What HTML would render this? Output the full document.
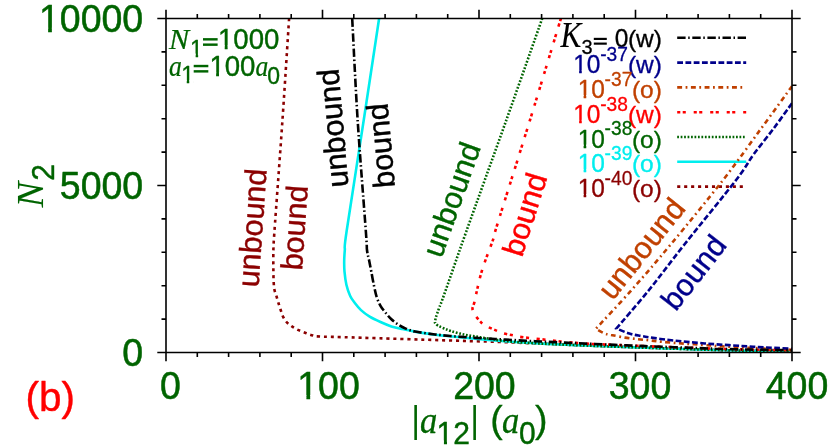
<!DOCTYPE html>
<html lang="en"><head><meta charset="utf-8"><title>Phase diagram (b)</title>
<style>
html,body{margin:0;padding:0;background:#fff;}
body{width:830px;height:446px;overflow:hidden;font-family:"Liberation Sans", sans-serif;}
svg{display:block;will-change:transform;}
text{font-family:"Liberation Sans", sans-serif;stroke-linejoin:round;}
.it{font-family:"Liberation Serif", serif;font-style:italic;}
</style></head><body>
<svg width="830" height="446" viewBox="0 0 830 446">
<rect width="830" height="446" fill="#fff"/>
<defs><clipPath id="plot"><rect x="166" y="18.5" width="626" height="334"/></clipPath></defs>
<g fill="none" stroke-width="2.6">
<path d="M677.2 37.8 H746.2" stroke="#000000" stroke-dasharray="8.4 2.6 1.5 2.6"/>
<path d="M677.2 62.6 H746.2" stroke="#00008b" stroke-dasharray="5.8 2.45"/>
<path d="M677.2 87.4 H743" stroke="#c04000" stroke-dasharray="4.9 3.5 1.8 3.5"/>
<path d="M677.2 112.2 H746.2" stroke="#ff0000" stroke-dasharray="3.1 2.4 3.1 7.9"/>
<path d="M677.2 137 H746.2" stroke="#006400" stroke-dasharray="1.75 1.71"/>
<path d="M677.2 161.8 H746.2" stroke="#00eeee"/>
<path d="M677.2 186.6 H746.2" stroke="#8b0000" stroke-dasharray="3.1 3.85"/>
</g>
<g fill="none" stroke-width="2.6" stroke-linejoin="miter" clip-path="url(#plot)">
<path d="M289.1 18.5 C287.98 35.58 284.85 85.42 282.4 121 C279.95 156.58 275.9 210.5 274.4 232 C272.9 253.5 273.57 243.38 273.4 250 C273.23 256.62 273.35 266.28 273.4 271.7 C273.45 277.12 273.52 279.43 273.7 282.5 C273.88 285.57 274.02 287.75 274.5 290.1 C274.98 292.45 275.97 294.53 276.6 296.6 C277.23 298.67 277.67 300.43 278.3 302.5 C278.93 304.57 279.68 306.8 280.4 309 C281.12 311.2 281.65 313.62 282.6 315.7 C283.55 317.78 284.68 319.82 286.1 321.5 C287.52 323.18 289.3 324.48 291.1 325.8 C292.9 327.12 294.88 328.37 296.9 329.4 C298.92 330.43 301.07 331.15 303.2 332 C305.33 332.85 307.53 333.77 309.7 334.5 C311.87 335.23 315.12 336.08 316.2 336.4 C317.38 336.45 320.95 336.63 323.3 336.7 C325.65 336.77 326.78 336.72 330.3 336.8 C333.82 336.88 336.18 336.95 344.4 337.2 C352.62 337.45 366.17 337.88 379.6 338.3 C393.03 338.72 410.43 339.25 425 339.7 C439.57 340.15 453.67 340.6 467 341 C480.33 341.4 495.33 341.77 505 342.1 C514.67 342.43 518.33 342.73 525 343 C531.67 343.27 538.33 343.47 545 343.75 C551.67 344.03 558.33 344.41 565 344.7 C571.67 344.99 578.33 345.24 585 345.5 C591.67 345.76 598.33 346.03 605 346.28 C611.67 346.53 618.33 346.76 625 347 C631.67 347.24 638.33 347.49 645 347.72 C651.67 347.95 658.33 348.17 665 348.39 C671.67 348.61 678.33 348.83 685 349.04 C691.67 349.25 698.33 349.45 705 349.65 C711.67 349.85 718.33 350.08 725 350.25 C731.67 350.42 738.33 350.53 745 350.65 C751.67 350.77 758.33 350.87 765 350.95 C771.67 351.03 780.5 351.09 785 351.13 C789.5 351.18 790.83 351.19 792 351.2" stroke="#8b0000" stroke-dasharray="3.1 3.85"/>
<path d="M379.1 18.5 C376.52 35.58 369.03 85.42 363.6 121 C358.17 156.58 349.63 210.5 346.5 232 C343.37 253.5 345.18 245.2 344.8 250 C344.42 254.8 344.25 257.18 344.2 260.8 C344.15 264.42 344.13 267.72 344.5 271.7 C344.87 275.68 345.45 280.65 346.4 284.7 C347.35 288.75 348.85 293.03 350.2 296 C351.55 298.97 352.7 300.15 354.5 302.5 C356.3 304.85 358.47 307.75 361 310.1 C363.53 312.45 366.45 314.62 369.7 316.6 C372.95 318.58 376.88 320.37 380.5 322 C384.12 323.63 387.78 325.22 391.4 326.4 C395.02 327.58 398.27 328.23 402.2 329.1 C406.13 329.97 409.53 330.67 415 331.6 C420.47 332.53 428.33 333.81 435 334.67 C441.67 335.52 448.33 336.03 455 336.72 C461.67 337.4 468.33 338.15 475 338.78 C481.67 339.41 488.33 339.97 495 340.5 C501.67 341.03 508.33 341.52 515 341.98 C521.67 342.44 528.33 342.87 535 343.25 C541.67 343.63 548.33 343.94 555 344.25 C561.67 344.56 568.33 344.83 575 345.1 C581.67 345.38 588.33 345.64 595 345.9 C601.67 346.16 608.33 346.4 615 346.64 C621.67 346.88 628.33 347.12 635 347.36 C641.67 347.6 648.33 347.84 655 348.06 C661.67 348.29 668.33 348.5 675 348.71 C681.67 348.93 688.33 349.14 695 349.35 C701.67 349.56 708.33 349.76 715 349.95 C721.67 350.14 728.33 350.34 735 350.48 C741.67 350.63 748.33 350.72 755 350.82 C761.67 350.91 768.83 350.98 775 351.04 C781.17 351.1 789.17 351.17 792 351.2" stroke="#00eeee"/>
<path d="M542.2 18.5 C536.17 35.58 518.68 85.42 506 121 C493.32 156.58 476.43 203 466.1 232 C455.77 261 448.5 282.33 444 295 C439.5 307.67 440.47 304.2 439.1 308 C437.73 311.8 436.48 315.35 435.8 317.8 C435.12 320.25 435.13 321.88 435 322.7 C435.47 323.17 436.38 324.58 437.8 325.5 C439.22 326.42 441.33 327.28 443.5 328.2 C445.67 329.12 447.42 329.95 450.8 331 C454.18 332.05 459.28 333.52 463.8 334.5 C468.32 335.48 473.38 336.17 477.9 336.9 C482.42 337.63 487.22 338.32 490.9 338.9 C494.58 339.48 495.98 339.89 500 340.4 C504.02 340.91 509.17 341.5 515 341.98 C520.83 342.46 528.33 342.87 535 343.25 C541.67 343.63 548.33 343.94 555 344.25 C561.67 344.56 568.33 344.83 575 345.1 C581.67 345.38 588.33 345.64 595 345.9 C601.67 346.16 608.33 346.4 615 346.64 C621.67 346.88 628.33 347.12 635 347.36 C641.67 347.6 648.33 347.84 655 348.06 C661.67 348.29 668.33 348.5 675 348.71 C681.67 348.93 688.33 349.14 695 349.35 C701.67 349.56 708.33 349.76 715 349.95 C721.67 350.14 728.33 350.34 735 350.48 C741.67 350.63 748.33 350.72 755 350.82 C761.67 350.91 768.83 350.98 775 351.04 C781.17 351.1 789.17 351.17 792 351.2" stroke="#006400" stroke-dasharray="1.75 1.71"/>
<path d="M560.9 18.5 C555.7 35.58 540.3 86.67 529.7 121 C519.1 155.33 503.32 204.97 497.3 224.5 C491.28 244.03 496.1 230.72 493.6 238.2 C491.1 245.68 485.22 260.05 482.3 269.4 C479.38 278.75 477.43 288.77 476.1 294.3 C474.77 299.83 474.9 300.13 474.3 302.6 C473.7 305.07 472.32 306.93 472.5 309.1 C472.68 311.27 473.73 313.17 475.4 315.6 C477.07 318.03 480.47 321.83 482.5 323.7 C484.53 325.57 485.12 325.58 487.6 326.8 C490.08 328.02 494.85 329.92 497.4 331 C499.95 332.08 500.23 332.57 502.9 333.3 C505.57 334.03 510.75 334.83 513.4 335.4 C516.05 335.97 516.1 336.27 518.8 336.7 C521.5 337.13 526.83 337.67 529.6 338 C532.37 338.33 532.62 338.4 535.4 338.7 C538.18 339 543.65 339.52 546.3 339.8 C548.95 340.08 548.18 340.05 551.3 340.4 C554.42 340.75 559.38 341.37 565 341.9 C570.62 342.43 578.33 343.15 585 343.59 C591.67 344.02 598.33 344.21 605 344.5 C611.67 344.79 618.33 345.03 625 345.3 C631.67 345.57 638.33 345.84 645 346.1 C651.67 346.36 658.33 346.61 665 346.86 C671.67 347.11 678.33 347.37 685 347.61 C691.67 347.86 698.33 348.09 705 348.32 C711.67 348.56 718.33 348.83 725 349.02 C731.67 349.22 738.33 349.36 745 349.5 C751.67 349.64 758.33 349.76 765 349.86 C771.67 349.96 780.5 350.06 785 350.11 C789.5 350.17 790.83 350.19 792 350.2" stroke="#ff0000" stroke-dasharray="3.1 2.4 3.1 7.9"/>
<path d="M792 86.2 C786.92 93.17 772.98 112.37 761.5 128 C750.02 143.63 738.17 160.67 723.1 180 C708.03 199.33 686.35 225.67 671.1 244 C655.85 262.33 644.15 275.87 631.6 290 C619.05 304.13 601.77 322.33 595.8 328.8 C597.25 329.57 601.97 332.38 604.5 333.4 C607.03 334.42 607.58 334.2 611 334.9 C614.42 335.6 620.48 336.88 625 337.6 C629.52 338.32 633.93 338.73 638.1 339.2 C642.27 339.67 646.07 339.97 650 340.4 C653.93 340.83 657.03 341.33 661.7 341.8 C666.37 342.27 672.58 342.78 678 343.2 C683.42 343.62 688.78 343.92 694.2 344.3 C699.62 344.68 705.98 345.17 710.5 345.5 C715.02 345.83 715.13 345.93 721.3 346.3 C727.47 346.67 739.38 347.27 747.5 347.7 C755.62 348.13 762.58 348.53 770 348.9 C777.42 349.27 788.33 349.73 792 349.9" stroke="#c04000" stroke-dasharray="4.9 3.5 1.8 3.5"/>
<path d="M792 103.2 C789 107.33 780.47 119.37 774 128 C767.53 136.63 759.52 146.33 753.2 155 C746.88 163.67 747.5 165.17 736.1 180 C724.7 194.83 699.32 225.67 684.8 244 C670.28 262.33 660.4 275.92 649 290 C637.6 304.08 621.83 322.08 616.4 328.5 C618.57 329.35 625.25 332.35 629.4 333.6 C633.55 334.85 637.87 335.37 641.3 336 C644.73 336.63 645.7 336.77 650 337.4 C654.3 338.03 661.53 339.12 667.1 339.8 C672.67 340.48 677.98 340.97 683.4 341.5 C688.82 342.03 694.18 342.53 699.6 343 C705.02 343.47 708.82 343.8 715.9 344.3 C722.98 344.8 735.02 345.53 742.1 346 C749.18 346.47 752.98 346.78 758.4 347.1 C763.82 347.42 769 347.62 774.6 347.9 C780.2 348.18 789.1 348.65 792 348.8" stroke="#00008b" stroke-dasharray="5.8 2.45"/>
<path d="M352.2 18.5 C353.12 35.58 355.42 85.42 357.7 121 C359.98 156.58 364.35 210.5 365.9 232 C367.45 253.5 366.45 245.2 367 250 C367.55 254.8 368.48 257.18 369.2 260.8 C369.92 264.42 370.5 267.53 371.3 271.7 C372.1 275.87 373.1 281.57 374 285.8 C374.9 290.03 375.62 293.77 376.7 297.1 C377.78 300.43 378.95 303.1 380.5 305.8 C382.05 308.5 384.18 311.05 386 313.3 C387.82 315.55 389.42 317.45 391.4 319.3 C393.38 321.15 395.73 322.95 397.9 324.4 C400.07 325.85 401.55 326.82 404.4 328 C407.25 329.18 409.9 330.43 415 331.5 C420.1 332.57 428.33 333.62 435 334.43 C441.67 335.25 448.33 335.82 455 336.39 C461.67 336.96 468.33 337.41 475 337.85 C481.67 338.3 488.33 338.66 495 339.04 C501.67 339.42 508.33 339.79 515 340.16 C521.67 340.53 528.33 340.9 535 341.23 C541.67 341.57 548.33 341.85 555 342.17 C561.67 342.48 568.33 342.8 575 343.11 C581.67 343.43 588.33 343.76 595 344.06 C601.67 344.36 608.33 344.63 615 344.9 C621.67 345.17 628.33 345.44 635 345.7 C641.67 345.96 648.33 346.23 655 346.49 C661.67 346.74 668.33 346.99 675 347.24 C681.67 347.49 688.33 347.74 695 347.98 C701.67 348.21 708.33 348.45 715 348.68 C721.67 348.9 728.33 349.13 735 349.3 C741.67 349.47 748.33 349.59 755 349.7 C761.67 349.81 768.83 349.9 775 349.99 C781.17 350.07 789.17 350.16 792 350.2" stroke="#000000" stroke-dasharray="8.4 2.6 1.5 2.6"/>
</g>
<path d="M157.3 352.5 H800.7 M157.3 18.5 H800.7 M166 9.8 V361.2 M792 9.8 V361.2 M166 352.5 v8.7 M166 18.5 v-8.7 M197.3 352.5 v4.5 M197.3 18.5 v-4.5 M228.6 352.5 v4.5 M228.6 18.5 v-4.5 M259.9 352.5 v4.5 M259.9 18.5 v-4.5 M291.2 352.5 v4.5 M291.2 18.5 v-4.5 M322.5 352.5 v8.7 M322.5 18.5 v-8.7 M353.8 352.5 v4.5 M353.8 18.5 v-4.5 M385.1 352.5 v4.5 M385.1 18.5 v-4.5 M416.4 352.5 v4.5 M416.4 18.5 v-4.5 M447.7 352.5 v4.5 M447.7 18.5 v-4.5 M479 352.5 v8.7 M479 18.5 v-8.7 M510.3 352.5 v4.5 M510.3 18.5 v-4.5 M541.6 352.5 v4.5 M541.6 18.5 v-4.5 M572.9 352.5 v4.5 M572.9 18.5 v-4.5 M604.2 352.5 v4.5 M604.2 18.5 v-4.5 M635.5 352.5 v8.7 M635.5 18.5 v-8.7 M666.8 352.5 v4.5 M666.8 18.5 v-4.5 M698.1 352.5 v4.5 M698.1 18.5 v-4.5 M729.4 352.5 v4.5 M729.4 18.5 v-4.5 M760.7 352.5 v4.5 M760.7 18.5 v-4.5 M792 352.5 v8.7 M792 18.5 v-8.7 M166 352.5 h-8.7 M792 352.5 h8.7 M166 319.1 h-4.5 M792 319.1 h4.5 M166 285.7 h-4.5 M792 285.7 h4.5 M166 252.3 h-4.5 M792 252.3 h4.5 M166 218.9 h-4.5 M792 218.9 h4.5 M166 185.5 h-8.7 M792 185.5 h8.7 M166 152.1 h-4.5 M792 152.1 h4.5 M166 118.7 h-4.5 M792 118.7 h4.5 M166 85.3 h-4.5 M792 85.3 h4.5 M166 51.9 h-4.5 M792 51.9 h4.5 M166 18.5 h-8.7 M792 18.5 h8.7" fill="none" stroke="#000" stroke-width="1.6"/>
<g fill="#006400" stroke="#006400">
<clipPath id="c1"><path clip-rule="evenodd" d="M-750 -750 H750 V750 H-750 Z M-103.16 -4.1 H-95.06 V2 H-103.16 Z M-91.35 -4.1 H-84.04 V2 H-91.35 Z"/></clipPath>
<text transform="translate(143.2 31.7) scale(1 1.044)" font-size="37.5" stroke-width="0.51" text-anchor="end" clip-path="url(#c1)">10000</text>
<text transform="translate(143.2 198.6) scale(1 1.044)" font-size="37.5" stroke-width="0.51" text-anchor="end">5000</text>
<text transform="translate(143.2 365.8) scale(1 1.044)" font-size="37.5" stroke-width="0.51" text-anchor="end">0</text>
<text transform="translate(170.4 399.3) scale(1 1.044)" font-size="37.5" stroke-width="0.51" text-anchor="middle">0</text>
<clipPath id="c2"><path clip-rule="evenodd" d="M-450 -450 H450 V450 H-450 Z M-30.16 -4.1 H-22.06 V2 H-30.16 Z M-18.34 -4.1 H-11.04 V2 H-18.34 Z"/></clipPath>
<text transform="translate(328.5 399.3) scale(1 1.044)" font-size="37.5" stroke-width="0.51" text-anchor="middle" clip-path="url(#c2)">100</text>
<text transform="translate(484.4 399.3) scale(1 1.044)" font-size="37.5" stroke-width="0.51" text-anchor="middle">200</text>
<text transform="translate(640 399.3) scale(1 1.044)" font-size="37.5" stroke-width="0.51" text-anchor="middle">300</text>
<text transform="translate(797 399.3) scale(1 1.044)" font-size="37.5" stroke-width="0.51" text-anchor="middle">400</text>
</g>
<g fill="#006400" stroke="#006400">
<text transform="translate(42.8 207.5) rotate(-90)" font-size="38.5" stroke-width="0.1" class="it">N</text>
<text transform="translate(54.2 180.7) rotate(-90) scale(1 1.044)" font-size="30" stroke-width="0.41">2</text>
</g>
<g fill="#006400" stroke="#006400">
<text transform="translate(411.5 432.2) scale(0.85 1)" font-size="37.5" stroke-width="0">|</text>
<text transform="translate(419.9 432.7) scale(0.9 1)" font-size="38.5" stroke-width="0.31" class="it">a</text>
<clipPath id="c3"><path clip-rule="evenodd" d="M-360 -360 H360 V360 H-360 Z M0.9 -3.54 H7.34 V2 H0.9 Z M10.39 -3.54 H16.2 V2 H10.39 Z"/></clipPath>
<text transform="translate(436.6 444.2) scale(1 1.044)" font-size="30" stroke-width="0.41" clip-path="url(#c3)">12</text>
<text transform="translate(470.5 432.2) scale(0.85 1)" font-size="37.5" stroke-width="0">|</text>
<text transform="translate(490.3 432)" font-size="37.5" stroke-width="0.3">(</text>
<text transform="translate(502.1 432.7) scale(0.9 1)" font-size="38.5" stroke-width="0.31" class="it">a</text>
<text transform="translate(518.9 444.4) scale(1 1.044)" font-size="30" stroke-width="0.41">0</text>
<text transform="translate(535 432)" font-size="37.5" stroke-width="0.3">)</text>
</g>
<text transform="translate(25.6 410.5)" font-size="40.5" fill="#ff0000" stroke="#ff0000" stroke-width="0.4">(b)</text>
<g fill="#006400" stroke="#006400">
<text transform="translate(169 48.8)" font-size="30.2" stroke-width="0.24" class="it">N</text>
<clipPath id="c4"><path clip-rule="evenodd" d="M-276 -276 H276 V276 H-276 Z M0.69 -3.02 H5.58 V2 H0.69 Z M8.02 -3.02 H12.42 V2 H8.02 Z"/></clipPath>
<text transform="translate(190.1 56.6) scale(1 1.044)" font-size="23" stroke-width="0.31" clip-path="url(#c4)">1</text>
<rect x="203" y="38.12" width="14.63" height="2.43" fill="#006400" stroke="none"/>
<rect x="203" y="43.45" width="14.63" height="2.43" fill="#006400" stroke="none"/>
<clipPath id="c5"><path clip-rule="evenodd" d="M-441.6 -441.6 H441.6 V441.6 H-441.6 Z M0.83 -3.36 H6.74 V2 H0.83 Z M9.58 -3.36 H14.9 V2 H9.58 Z"/></clipPath>
<text transform="translate(218 48.8) scale(1 1.044)" font-size="27.6" stroke-width="0.37" clip-path="url(#c5)">1000</text>
<text transform="translate(168.9 76) scale(0.9 1)" font-size="28.5" stroke-width="0.23" class="it">a</text>
<clipPath id="c6"><path clip-rule="evenodd" d="M-276 -276 H276 V276 H-276 Z M0.69 -3.02 H5.58 V2 H0.69 Z M8.02 -3.02 H12.42 V2 H8.02 Z"/></clipPath>
<text transform="translate(181.2 83.4) scale(1 1.044)" font-size="23" stroke-width="0.31" clip-path="url(#c6)">1</text>
<rect x="193.7" y="64.82" width="14.63" height="2.43" fill="#006400" stroke="none"/>
<rect x="193.7" y="70.15" width="14.63" height="2.43" fill="#006400" stroke="none"/>
<clipPath id="c7"><path clip-rule="evenodd" d="M-331.2 -331.2 H331.2 V331.2 H-331.2 Z M0.83 -3.36 H6.74 V2 H0.83 Z M9.58 -3.36 H14.9 V2 H9.58 Z"/></clipPath>
<text transform="translate(209.4 75.5) scale(1 1.044)" font-size="27.6" stroke-width="0.37" clip-path="url(#c7)">100</text>
<text transform="translate(255.6 76) scale(0.9 1)" font-size="28.5" stroke-width="0.23" class="it">a</text>
<text transform="translate(267.3 83.6) scale(1 1.044)" font-size="23" stroke-width="0.31">0</text>
</g>
<g fill="#000" stroke="#000">
<text transform="translate(560.6 47.3) scale(0.88 1)" font-size="35.5" stroke-width="0.1" class="it">K</text>
<text transform="translate(581.5 54.1) scale(1 1.044)" font-size="20" stroke-width="0.27">3</text>
<rect x="593.8" y="37.82" width="12.99" height="2.16" fill="#000" stroke="none"/>
<rect x="593.8" y="42.55" width="12.99" height="2.16" fill="#000" stroke="none"/>
<text transform="translate(614.7 47.3) scale(1 1.044)" font-size="24.5" stroke-width="0.33">0</text>
<text transform="translate(661.9 47.3)" font-size="24.5" stroke-width="0.33" text-anchor="end">(w)</text>
</g>
<g fill="#00008b" stroke="#00008b">
<clipPath id="c8"><path clip-rule="evenodd" d="M-294 -294 H294 V294 H-294 Z M0.73 -3.13 H5.96 V2 H0.73 Z M8.53 -3.13 H13.23 V2 H8.53 Z"/></clipPath>
<text transform="translate(573.2 73.4) scale(1 1.044)" font-size="24.5" stroke-width="0.33" clip-path="url(#c8)">10</text>
<text transform="translate(600.2 61) scale(1 1.044)" font-size="19.2" stroke-width="0.26">-37</text>
<text transform="translate(661.9 73.4)" font-size="24.5" stroke-width="0.33" text-anchor="end">(w)</text>
</g>
<g fill="#c04000" stroke="#c04000">
<clipPath id="c9"><path clip-rule="evenodd" d="M-294 -294 H294 V294 H-294 Z M0.73 -3.13 H5.96 V2 H0.73 Z M8.53 -3.13 H13.23 V2 H8.53 Z"/></clipPath>
<text transform="translate(577.7 98.15) scale(1 1.044)" font-size="24.5" stroke-width="0.33" clip-path="url(#c9)">10</text>
<text transform="translate(604.6 85.75) scale(1 1.044)" font-size="19.2" stroke-width="0.26">-37</text>
<text transform="translate(661.9 98.15)" font-size="24.5" stroke-width="0.33" text-anchor="end">(o)</text>
</g>
<g fill="#ff0000" stroke="#ff0000">
<clipPath id="c10"><path clip-rule="evenodd" d="M-294 -294 H294 V294 H-294 Z M0.73 -3.13 H5.96 V2 H0.73 Z M8.53 -3.13 H13.23 V2 H8.53 Z"/></clipPath>
<text transform="translate(573.2 122.9) scale(1 1.044)" font-size="24.5" stroke-width="0.33" clip-path="url(#c10)">10</text>
<text transform="translate(600.2 110.5) scale(1 1.044)" font-size="19.2" stroke-width="0.26">-38</text>
<text transform="translate(661.9 122.9)" font-size="24.5" stroke-width="0.33" text-anchor="end">(w)</text>
</g>
<g fill="#006400" stroke="#006400">
<clipPath id="c11"><path clip-rule="evenodd" d="M-294 -294 H294 V294 H-294 Z M0.73 -3.13 H5.96 V2 H0.73 Z M8.53 -3.13 H13.23 V2 H8.53 Z"/></clipPath>
<text transform="translate(577.7 147.65) scale(1 1.044)" font-size="24.5" stroke-width="0.33" clip-path="url(#c11)">10</text>
<text transform="translate(604.6 135.25) scale(1 1.044)" font-size="19.2" stroke-width="0.26">-38</text>
<text transform="translate(661.9 147.65)" font-size="24.5" stroke-width="0.33" text-anchor="end">(o)</text>
</g>
<g fill="#00eeee" stroke="#00eeee">
<clipPath id="c12"><path clip-rule="evenodd" d="M-294 -294 H294 V294 H-294 Z M0.73 -3.13 H5.96 V2 H0.73 Z M8.53 -3.13 H13.23 V2 H8.53 Z"/></clipPath>
<text transform="translate(577.7 172.4) scale(1 1.044)" font-size="24.5" stroke-width="0.33" clip-path="url(#c12)">10</text>
<text transform="translate(604.6 160) scale(1 1.044)" font-size="19.2" stroke-width="0.26">-39</text>
<text transform="translate(661.9 172.4)" font-size="24.5" stroke-width="0.33" text-anchor="end">(o)</text>
</g>
<g fill="#8b0000" stroke="#8b0000">
<clipPath id="c13"><path clip-rule="evenodd" d="M-294 -294 H294 V294 H-294 Z M0.73 -3.13 H5.96 V2 H0.73 Z M8.53 -3.13 H13.23 V2 H8.53 Z"/></clipPath>
<text transform="translate(577.7 197.15) scale(1 1.044)" font-size="24.5" stroke-width="0.33" clip-path="url(#c13)">10</text>
<text transform="translate(604.6 184.75) scale(1 1.044)" font-size="19.2" stroke-width="0.26">-40</text>
<text transform="translate(661.9 197.15)" font-size="24.5" stroke-width="0.33" text-anchor="end">(o)</text>
</g>
<text transform="translate(258.4 287.8) rotate(-86)" font-size="30.5" fill="#8b0000" stroke="#8b0000" stroke-width="0.41">unbound</text>
<text transform="translate(302 270.8) rotate(-86)" font-size="30.5" fill="#8b0000" stroke="#8b0000" stroke-width="0.41">bound</text>
<text transform="translate(348.6 186.5) rotate(-95)" font-size="30.5" fill="#000000" stroke="#000000" stroke-width="0.41">unbound</text>
<text transform="translate(395 187) rotate(-95)" font-size="30.5" fill="#000000" stroke="#000000" stroke-width="0.41">bound</text>
<text transform="translate(441.4 258.9) rotate(-70.4)" font-size="30.5" fill="#006400" stroke="#006400" stroke-width="0.41">unbound</text>
<text transform="translate(522 258) rotate(-72.5)" font-size="30.5" fill="#ff0000" stroke="#ff0000" stroke-width="0.41">bound</text>
<text transform="translate(612.5 301.5) rotate(-51.3)" font-size="30.5" fill="#c04000" stroke="#c04000" stroke-width="0.41">unbound</text>
<text transform="translate(675.8 312.3) rotate(-52)" font-size="30.5" fill="#00008b" stroke="#00008b" stroke-width="0.41">bound</text>
</svg>
</body></html>
